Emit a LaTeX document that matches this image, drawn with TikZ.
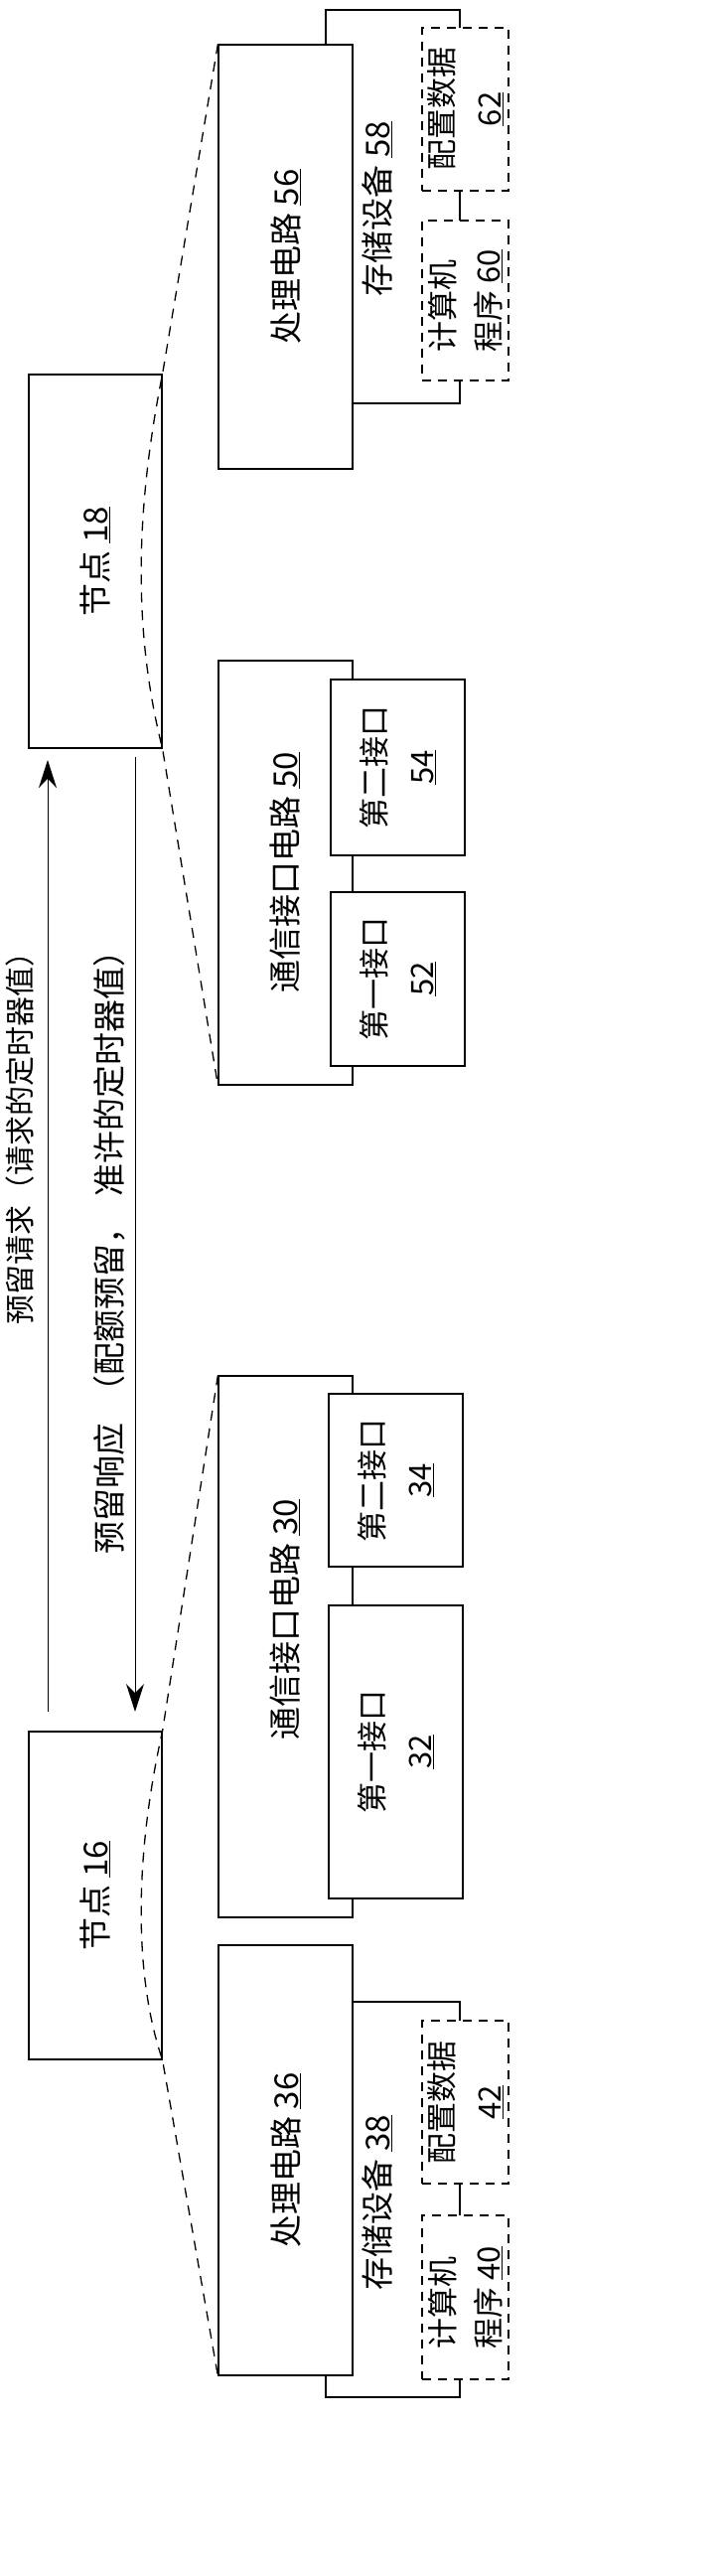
\documentclass[tikz,border=0pt]{standalone}
\usepackage{fontspec}
\setmainfont{Noto Sans CJK SC}
\usetikzlibrary{fit,arrows.meta}
\begin{document}
\begin{tikzpicture}[x=1pt,y=-1pt,
  box/.style={draw,line width=1.2pt,fill=white,inner sep=0pt},
  dbox/.style={draw,line width=1.2pt,fill=white,inner sep=0pt,dash pattern=on 9pt off 7pt},
  txt/.style={rotate=90,font=\fontsize{33}{36}\selectfont,align=center,inner sep=0pt},
  ttxt/.style={rotate=90,font=\fontsize{31}{48}\selectfont,align=center,inner sep=0pt},
  stxt/.style={rotate=90,font=\fontsize{31}{46}\selectfont,align=left,inner sep=0pt},
  bracket/.style={line width=1.3pt,dash pattern=on 10pt off 8pt},
  msg/.style={line width=1pt,-{Stealth[length=28pt,width=18pt]}}]
\useasboundingbox (0,0) rectangle (730,2593);
% ---- node 18 side
\node[box,fit={(328,10)(463,406)}] (s58) {};
\node[box,fit={(220,45)(355,472)}] (p56) {};
\node[txt] at (p56) {处理电路 \underline{56}};
\node[txt] at (380,210) {存储设备 \underline{58}};
\node[dbox,fit={(425,28)(512,192)}] (d62) {};
\node[ttxt] at (d62) {配置数据\\\underline{62}};
\node[dbox,fit={(425,222)(512,383)}] (d60) {};
\node[stxt] at (d60) {计算机\\程序 \underline{60}};
\node[box,fit={(220,665)(355,1092)}] (c50) {};
\node[txt] at (287,878) {通信接口电路 \underline{50}};
\node[box,fit={(333,684)(468,861)}] (i54) {};
\node[ttxt] at (i54) {第二接口\\\underline{54}};
\node[box,fit={(333,898)(468,1073)}] (i52) {};
\node[ttxt] at (i52) {第一接口\\\underline{52}};
\node[box,fit={(29,377)(163,753)}] (n18) {};
\node[txt] at (n18) {节点 \underline{18}};
\draw[bracket] (p56.north west) -- (n18.north east) .. controls (135,520) and (135,640) .. (n18.south east) -- (c50.south west);
% ---- node 16 side
\node[box,fit={(328,2015)(463,2413)}] (s38) {};
\node[box,fit={(220,1958)(355,2391)}] (p36) {};
\node[txt] at (p36) {处理电路 \underline{36}};
\node[txt] at (380,2217) {存储设备 \underline{38}};
\node[dbox,fit={(425,2034)(512,2198)}] (d42) {};
\node[ttxt] at (d42) {配置数据\\\underline{42}};
\node[dbox,fit={(425,2230)(512,2395)}] (d40) {};
\node[stxt] at (d40) {计算机\\程序 \underline{40}};
\node[box,fit={(220,1385)(355,1930)}] (c30) {};
\node[txt] at (287,1630) {通信接口电路 \underline{30}};
\node[box,fit={(331,1403)(466,1577)}] (i34) {};
\node[ttxt] at (i34) {第二接口\\\underline{34}};
\node[box,fit={(331,1616)(466,1911)}] (i32) {};
\node[ttxt] at (i32) {第一接口\\\underline{32}};
\node[box,fit={(29,1743)(163,2073)}] (n16) {};
\node[txt] at (n16) {节点 \underline{16}};
\draw[bracket] (c30.north west) -- (n16.north east) .. controls (135,1870) and (135,1990) .. (n16.south east) -- (p36.south west);
% ---- messages
\coordinate (rqs) at (48,1723);
\coordinate (rqe) at (48,765);
\coordinate (rss) at (136,762);
\coordinate (rse) at (136,1723);
\draw[msg] (rqs) -- (rqe);
\draw[msg] (rss) -- (rse);
\node[txt,font=\fontsize{30}{36}\selectfont] at (20,1138) {预留请求（请求的定时器值）};
\node[txt] at (110,1252) {预留响应\hspace{15pt}（配额预留，\hspace{15pt}准许的定时器值）};
\end{tikzpicture}
\end{document}
